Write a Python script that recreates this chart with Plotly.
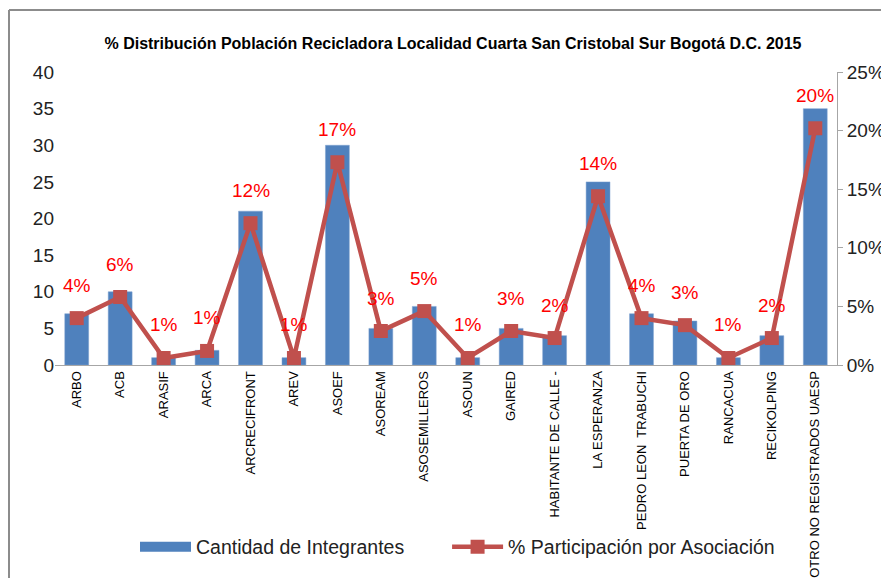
import plotly.graph_objects as go

categories = ["ARBO", "ACB", "ARASIF", "ARCA", "ARCRECIFRONT", "AREV", "ASOEF", "ASOREAM",
              "ASOSEMILLEROS", "ASOUN", "GAIRED", "HABITANTE DE CALLE -", "LA ESPERANZA",
              "PEDRO LEON  TRABUCHI", "PUERTA DE ORO", "RANCACUA", "RECIKOLPING",
              "OTRO NO REGISTRADOS UAESP"]
integrantes = [7, 10, 1, 2, 21, 1, 30, 5, 8, 1, 5, 4, 25, 7, 6, 1, 4, 35]
participacion = [0.040, 0.058, 0.006, 0.012, 0.121, 0.006, 0.173, 0.029, 0.046, 0.006,
                 0.029, 0.023, 0.144, 0.040, 0.034, 0.006, 0.023, 0.202]
left_ticks = [0, 5, 10, 15, 20, 25, 30, 35, 40]
right_ticks = [0, 0.05, 0.10, 0.15, 0.20, 0.25]

BLUE = "#4F81BD"
RED = "#C0504D"
FONT = "Liberation Sans"

# page body has an 8px margin, so the figure is sized to fill the rest of the window
W, H = 881, 570
L, R, T, B = 47, 52, 64, 213
PW, PH = W - L - R, H - T - B


def px(x):
    return (x - L) / PW


def py(y):
    return (H - B - y) / PH


fig = go.Figure()
fig.add_trace(go.Bar(
    x=categories, y=integrantes, name="Cantidad de Integrantes",
    marker=dict(color=BLUE, line=dict(color="#7FA3D0", width=0.5)),
    yaxis="y", showlegend=False,
))
# legend entry drawn as a wide blue swatch like the original
fig.add_trace(go.Scatter(
    x=[None], y=[None], name="Cantidad de Integrantes" + "\u00a0" * 7, mode="lines",
    line=dict(color=BLUE, width=11), yaxis="y", hoverinfo="skip",
))
fig.add_trace(go.Scatter(
    x=categories, y=participacion, name="% Participación por Asociación",
    mode="lines+markers",
    line=dict(color=RED, width=4.5),
    marker=dict(symbol="square", size=14, color=RED),
    yaxis="y2",
))

annotations = []
for c, p in zip(categories, participacion):
    annotations.append(dict(
        x=c, y=p, xref="x", yref="y2", text=f"{p:.0%}", showarrow=False,
        yshift=33, font=dict(family=FONT, size=19, color="#FF0000"),
        xanchor="center", yanchor="middle",
    ))

fig.update_layout(
    width=W, height=H,
    margin=dict(l=L, r=R, t=T, b=B),
    paper_bgcolor="white", plot_bgcolor="white",
    font=dict(family=FONT, color="#222222"),
    title=dict(
        text="<b>% Distribución Población Recicladora Localidad Cuarta San Cristobal Sur Bogotá D.C. 2015</b>",
        x=px(445), xref="paper", xanchor="center",
        y=1 - 35 / H, yref="container", yanchor="middle",
        font=dict(family=FONT, size=16, color="#000000"),
    ),
    bargap=0.45,
    showlegend=True,
    legend=dict(
        orientation="h", x=px(127), xanchor="left", y=py(539), yanchor="middle",
        font=dict(family=FONT, size=19.5, color="#222222"),
        bgcolor="rgba(0,0,0,0)", tracegroupgap=0, itemwidth=51,
    ),
    xaxis=dict(
        range=[-0.5, len(categories) - 0.5],
        tickangle=-90, tickfont=dict(family=FONT, size=13, color="#000000"),
        showline=True, linecolor="#A6A6A6", linewidth=1, ticks="",
        showgrid=False, zeroline=False, automargin=False,
    ),
    yaxis=dict(
        range=[0, 40], tickvals=left_ticks, showgrid=False, zeroline=False,
        showline=False, ticks="", tickfont=dict(family=FONT, size=19, color="#222222"),
        automargin=False,
    ),
    yaxis2=dict(
        range=[0, 0.25], tickvals=right_ticks, tickformat=".0%", overlaying="y",
        side="right", showgrid=False, zeroline=False, showline=True,
        linecolor="#A6A6A6", linewidth=1, ticks="outside", ticklen=5, tickcolor="#A6A6A6",
        tickfont=dict(family=FONT, size=19, color="#222222"), automargin=False,
    ),
    annotations=annotations,
    shapes=[
        dict(type="line", xref="paper", yref="paper",
             x0=px(1), x1=px(1), y0=py(2), y1=py(600),
             line=dict(color="#8C8C8C", width=2)),
        dict(type="line", xref="paper", yref="paper",
             x0=px(1), x1=px(900), y0=py(2), y1=py(2),
             line=dict(color="#8C8C8C", width=2)),
    ],
)

fig.write_html("out.html")
